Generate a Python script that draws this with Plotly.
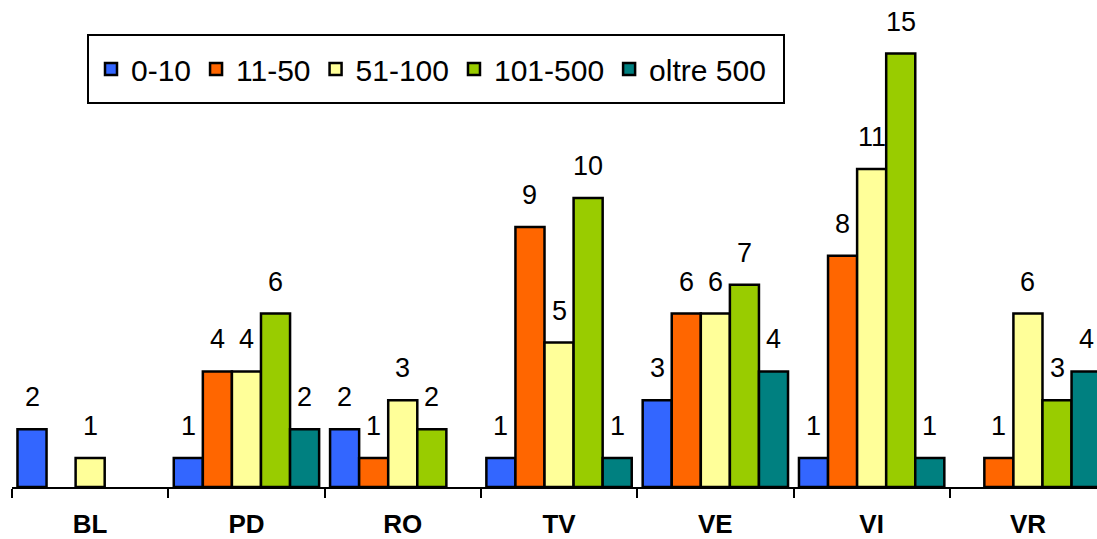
import plotly.graph_objects as go

categories = ["BL", "PD", "RO", "TV", "VE", "VI", "VR"]
series_names = ["0-10", "11-50", "51-100", "101-500", "oltre 500"]
v_0_10 = [2, 1, 2, 1, 3, 1, None]
v_11_50 = [None, 4, 1, 9, 6, 8, 1]
v_51_100 = [1, 4, 3, 5, 6, 11, 6]
v_101_500 = [None, 6, 2, 10, 7, 15, 3]
v_oltre_500 = [None, 2, None, 1, 4, 1, 4]
series_values = [v_0_10, v_11_50, v_51_100, v_101_500, v_oltre_500]
colors = ["#3366FF", "#FF6600", "#FFFF99", "#99CC00", "#008080"]

FONT = "Liberation Sans, Arial, sans-serif"
W, H = 1097, 539
ML, MR, MT, MB = 12, 0, 0, 52
BARGAP = 0.07
CAT_PX = 156.3
plot_w = W - ML - MR
plot_h = H - MT - MB
x_range = [-0.5, -0.5 + plot_w / CAT_PX]
y_range = [0, plot_h / 28.9]

fig = go.Figure()
n = len(series_names)
for i, (name, vals, col) in enumerate(zip(series_names, series_values, colors)):
    fig.add_trace(go.Bar(
        x=categories, y=vals, name=name,
        marker=dict(color=col, line=dict(color="black", width=2.5)),
    ))

annotations = []
for i, vals in enumerate(series_values):
    for j, v in enumerate(vals):
        if v is None:
            continue
        annotations.append(dict(
            x=j + (i - (n - 1) / 2) * (1 - BARGAP) / n, y=v,
            xref="x", yref="y", text=str(v), showarrow=False,
            yanchor="bottom", yshift=15,
            font=dict(family=FONT, size=27, color="black"),
        ))

lx0 = (88 - ML) / plot_w
lx1 = (784 - ML) / plot_w
ly1 = (plot_h + MT - 35) / plot_h
ly0 = (plot_h + MT - 103) / plot_h

fig.update_layout(
    width=W, height=H,
    margin=dict(l=ML, r=MR, t=MT, b=MB),
    paper_bgcolor="white", plot_bgcolor="white",
    barmode="group", bargap=BARGAP, bargroupgap=0,
    font=dict(family=FONT, color="black"),
    xaxis=dict(
        type="category", range=x_range, showline=True, linecolor="black",
        linewidth=2, ticks="outside", tickson="boundaries", ticklen=9,
        tickwidth=2, tickcolor="black", showgrid=False, automargin=False,
        tickfont=dict(family=FONT, size=26, color="black", weight="bold"),
        ticklabelstandoff=13,
    ),
    yaxis=dict(range=y_range, visible=False, showgrid=False, zeroline=False),
    showlegend=True,
    legend=dict(
        orientation="h", x=(91 - ML) / plot_w, xanchor="left",
        y=(ly0 + ly1) / 2, yanchor="middle",
        font=dict(family=FONT, size=30, color="black"),
        bgcolor="rgba(0,0,0,0)", borderwidth=0,
    ),
    shapes=[dict(type="rect", xref="paper", yref="paper",
                 x0=lx0, x1=lx1, y0=ly0, y1=ly1,
                 line=dict(color="black", width=2), fillcolor="rgba(0,0,0,0)",
                 layer="below")],
    annotations=annotations,
)

fig.write_html(
    "out.html",
    config={"displayModeBar": False},
    post_script="document.body.style.margin='0';document.body.style.overflow='hidden';",
)
